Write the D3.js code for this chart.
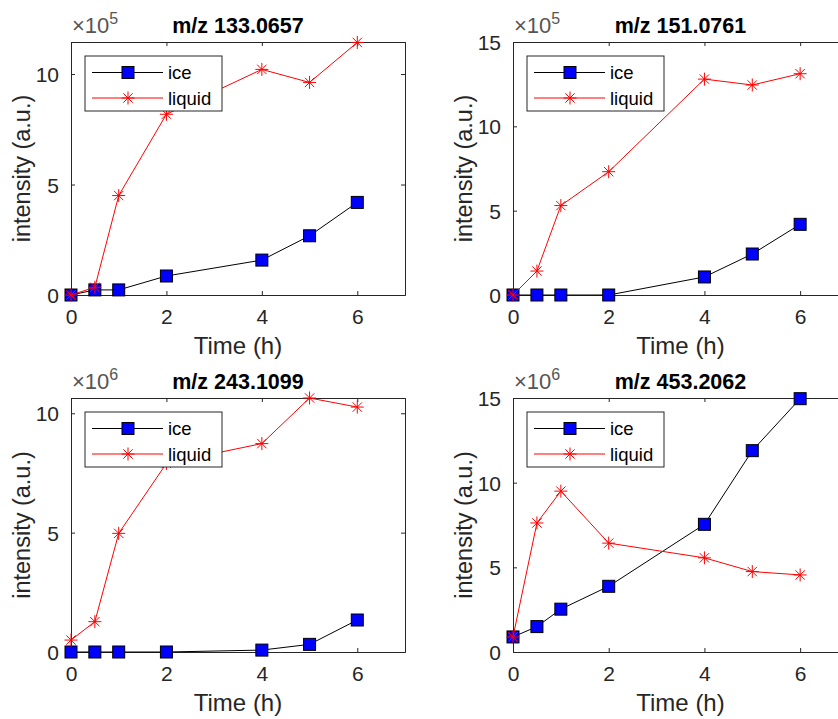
<!DOCTYPE html>
<html>
<head>
<meta charset="utf-8">
<script src="https://cdn.jsdelivr.net/npm/d3@7"></script>
<style>
  html, body { margin: 0; padding: 0; background: #fff; }
  svg { display: block; font-family: "Liberation Sans", Arial, Helvetica, sans-serif; }
</style>
</head>
<body>
<div id="chart"></div>
<script>
// Sampling times (h), shared by all four panels.
const hours = [0, 0.5, 1, 2, 4, 5, 6];
const xTicks = [0, 2, 4, 6];

// m/z 133.0657 (x10^5)
const ice133 = [0, 0.23e5, 0.23e5, 0.86e5, 1.58e5, 2.68e5, 4.19e5];
const liquid133 = [0, 0.35e5, 4.5e5, 8.18e5, 10.21e5, 9.62e5, 11.43e5];

// m/z 151.0761 (x10^5)
const ice151 = [0, 0, 0, 0, 1.07e5, 2.43e5, 4.19e5];
const liquid151 = [0, 1.42e5, 5.3e5, 7.31e5, 12.8e5, 12.45e5, 13.12e5];

// m/z 243.1099 (x10^6)
const ice243 = [0, 0, 0, 0, 0.08e6, 0.32e6, 1.34e6];
const liquid243 = [0.5e6, 1.27e6, 4.97e6, 7.9e6, 8.73e6, 10.64e6, 10.26e6];

// m/z 453.2062 (x10^6)
const ice453 = [0.89e6, 1.5e6, 2.53e6, 3.88e6, 7.54e6, 11.89e6, 14.96e6];
const liquid453 = [0.89e6, 7.62e6, 9.5e6, 6.43e6, 5.56e6, 4.75e6, 4.55e6];

const seriesNames = ['ice', 'liquid'];

const width = 838, height = 719;
const AXIS = '#262626';

const panels = [
  { title: 'm/z 133.0657', exp: 5, yMax: 11.45e5, yTicks: [0, 5, 10], ice: ice133, liquid: liquid133,
    box: { left: 71, top: 42, w: 334, h: 253 } },
  { title: 'm/z 151.0761', exp: 5, yMax: 15e5, yTicks: [0, 5, 10, 15], ice: ice151, liquid: liquid151,
    box: { left: 513, top: 42, w: 335, h: 253 } },
  { title: 'm/z 243.1099', exp: 6, yMax: 10.64e6, yTicks: [0, 5, 10], ice: ice243, liquid: liquid243,
    box: { left: 71, top: 398, w: 334, h: 254 } },
  { title: 'm/z 453.2062', exp: 6, yMax: 15e6, yTicks: [0, 5, 10, 15], ice: ice453, liquid: liquid453,
    box: { left: 513, top: 398, w: 335, h: 254 } },
];

const svg = d3.select('#chart').append('svg')
  .attr('width', width)
  .attr('height', height);

// MATLAB-style '*' marker: a plus and a cross.
function asteriskPath(r) {
  const d = r * 0.72;
  return `M${-r},0L${r},0M0,${-r}L0,${r}M${-d},${-d}L${d},${d}M${-d},${d}L${d},${-d}`;
}

function drawMarker(g, type, cx, cy) {
  if (type === 'ice') {
    g.append('rect')
      .attr('x', cx - 6).attr('y', cy - 6)
      .attr('width', 12).attr('height', 12)
      .attr('fill', '#0000ff')
      .attr('stroke', '#000').attr('stroke-width', 1);
  } else {
    g.append('path')
      .attr('transform', `translate(${cx},${cy})`)
      .attr('d', asteriskPath(6.5))
      .attr('fill', 'none')
      .attr('stroke', '#ff0000').attr('stroke-width', 1);
  }
}

function drawPanel(p) {
  const b = p.box;
  const g = svg.append('g').attr('transform', `translate(${b.left},${b.top})`);

  const x = d3.scaleLinear().domain([0, 7]).range([0, b.w]);
  const y = d3.scaleLinear().domain([0, p.yMax]).range([b.h, 0]);
  const unit = Math.pow(10, p.exp);

  // Axes box with inward ticks on all sides.
  const xAxis = d3.axisBottom(x).tickValues(xTicks).tickSizeInner(-4).tickSizeOuter(0)
    .tickPadding(14).tickFormat(d3.format('d'));
  const yAxis = d3.axisLeft(y).tickValues(p.yTicks.map(v => v * unit))
    .tickSizeInner(-4).tickSizeOuter(0).tickPadding(12)
    .tickFormat(v => d3.format('d')(Math.round(v / unit)));

  const gx = g.append('g').attr('transform', `translate(0,${b.h})`).call(xAxis);
  const gy = g.append('g').call(yAxis);
  const gxTop = g.append('g').call(d3.axisTop(x).tickValues(xTicks).tickSize(-4).tickFormat(''));
  const gyRight = g.append('g').attr('transform', `translate(${b.w},0)`)
    .call(d3.axisRight(y).tickValues(p.yTicks.map(v => v * unit)).tickSize(-4).tickFormat(''));

  [gx, gy, gxTop, gyRight].forEach(a => {
    a.select('.domain').attr('stroke', AXIS).attr('stroke-width', 1);
    a.selectAll('.tick line').attr('stroke', AXIS);
    a.selectAll('.tick text')
      .attr('fill', AXIS)
      .style('font-size', '21px')
      .style('font-family', '"Liberation Sans", Arial, sans-serif');
  });
  gy.selectAll('.tick text').attr('dy', '0.36em');

  // Series.
  const line = d3.line().x((d, i) => x(hours[i])).y(d => y(d));
  const styles = { ice: '#000000', liquid: '#ff0000' };

  seriesNames.forEach(name => {
    const vals = p[name];
    g.append('path')
      .datum(vals)
      .attr('d', line)
      .attr('fill', 'none')
      .attr('stroke', styles[name])
      .attr('stroke-width', 1);
    const mg = g.append('g');
    vals.forEach((v, i) => drawMarker(mg, name, x(hours[i]), y(v)));
  });

  // Legend.
  const lg = g.append('g').attr('transform', 'translate(14,14)');
  lg.append('rect')
    .attr('width', 137).attr('height', 55)
    .attr('fill', '#fff')
    .attr('stroke', AXIS).attr('stroke-width', 1);
  seriesNames.forEach((name, i) => {
    const cy = 16.5 + i * 25.5;
    lg.append('line')
      .attr('x1', 7).attr('x2', 78)
      .attr('y1', cy).attr('y2', cy)
      .attr('stroke', styles[name]).attr('stroke-width', 1);
    drawMarker(lg, name, 43, cy);
    lg.append('text')
      .attr('x', 83).attr('y', cy)
      .attr('dy', '0.36em')
      .attr('fill', '#000')
      .style('font-size', '18.5px')
      .text(name);
  });

  // Exponent label.
  const ex = g.append('text')
    .attr('x', 1).attr('y', -9)
    .attr('fill', '#555')
    .style('font-size', '22px');
  ex.append('tspan').text('\u00d710');
  ex.append('tspan').attr('dy', -9).style('font-size', '16px').text(p.exp);

  // Title.
  g.append('text')
    .attr('x', Math.min(b.w, 335) / 2)
    .attr('y', -9)
    .attr('text-anchor', 'middle')
    .attr('fill', '#000')
    .style('font-size', '21.5px')
    .style('font-weight', 'bold')
    .text(p.title);

  // Axis labels.
  g.append('text')
    .attr('x', b.w / 2)
    .attr('y', b.h + 59)
    .attr('text-anchor', 'middle')
    .attr('fill', AXIS)
    .style('font-size', '24px')
    .text('Time (h)');

  g.append('text')
    .attr('transform', `translate(-41,${b.h / 2}) rotate(-90)`)
    .attr('text-anchor', 'middle')
    .attr('fill', AXIS)
    .style('font-size', '23.5px')
    .text('intensity (a.u.)');
}

panels.forEach(drawPanel);
</script>
</body>
</html>
